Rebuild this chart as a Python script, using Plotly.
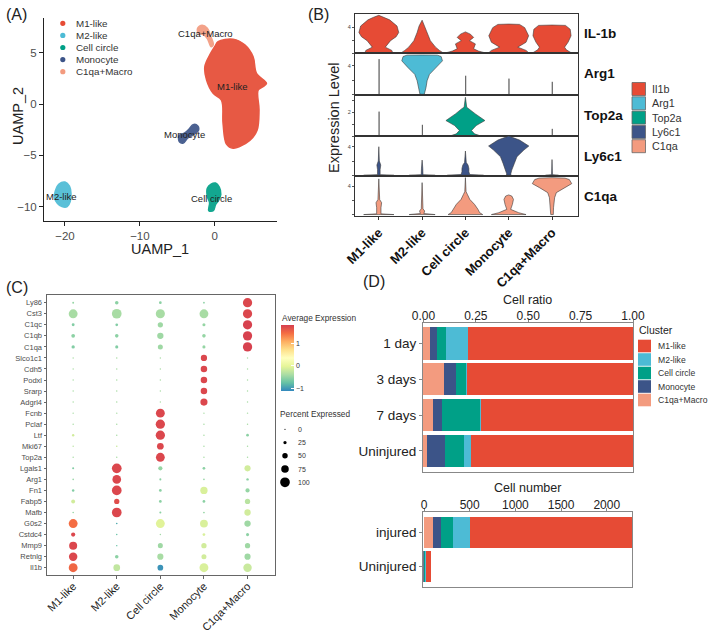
import plotly.graph_objects as go

W, H = 709, 632
FONT = "Liberation Sans, Arial, Helvetica, sans-serif"


def PX(x):
    return x / W


def PY(y):
    return 1 - y / H


# ------------------------------------------------------------------ data
CLUSTERS = ["M1-like", "M2-like", "Cell circle", "Monocyte", "C1qa+Macro"]
CLUSTER_COLORS = ["#E64B35", "#4DBBD5", "#00A087", "#3C5488", "#F39B7F"]

# Panel A: UMAP cluster outlines
M1_X = [0.44, 2.44, 4.0, 5.1, 5.56, 6.9, 6.44, 5.78, 5.9, 5.64, 4.67, 2.44, 1.56, 1.1, 0.89, -0.22, -1.1, -1.33, -0.67, 0.0]
M1_Y = [6.1, 6.34, 5.78, 4.64, 3.0, 2.03, 1.7, 1.37, -0.59, -2.55, -3.53, -4.3, -3.9, -1.9, 0.39, 1.05, 2.35, 3.66, 4.8, 5.62]
M2_X = [-21.3, -20.8, -20.0, -19.4, -19.2, -19.3, -19.7, -20.4, -21.0, -21.4]
M2_Y = [-8.5, -7.8, -7.6, -8.0, -8.7, -9.5, -10.0, -10.0, -9.7, -9.1]
CC_X = [-1.0, -0.5, 0.1, 0.6, 0.8, 0.5, 0.1, -0.2, -0.8, -0.7, -1.0]
CC_Y = [-8.2, -7.8, -7.7, -8.1, -8.8, -9.4, -9.8, -10.4, -10.4, -9.6, -9.0]
MO_X = [-4.7, -4.8, -4.0, -3.4, -2.9, -2.3, -2.2, -2.9, -3.6, -4.2]
MO_Y = [-3.7, -3.1, -2.8, -2.4, -2.0, -2.1, -2.6, -3.0, -3.3, -3.8]
CM_X = [-2.3, -1.7, -1.0, -0.6, -0.2, -0.5, -1.0, -1.6, -2.2]
CM_Y = [7.4, 7.7, 7.4, 6.7, 5.8, 5.6, 6.4, 6.8, 6.9]
OUTLINES_X = [M1_X, M2_X, CC_X, MO_X, CM_X]
OUTLINES_Y = [M1_Y, M2_Y, CC_Y, MO_Y, CM_Y]
LABEL_X = [2.4, -20.4, -0.4, -4.1, -1.3]
LABEL_Y = [1.7, -9.0, -9.2, -3.0, 6.9]
A_XTICKS = [-20, -10, 0]
A_YTICKS = [-10, -5, 0, 5]

# Panel B: violin profiles [value, half-width] per cluster
VLN_ROWS = ["IL-1b", "Arg1", "Top2a", "Ly6c1", "C1qa"]
VLN_LEGEND = ["Il1b", "Arg1", "Top2a", "Ly6c1", "C1qa"]
VLN_IL1B = [
    [[0, 0], [0.05, 0.32], [0.4, 0.3], [0.9, 0.15], [1.9, 0.27], [2.5, 0.4], [3.15, 0.46], [4.15, 0.42], [5.1, 0.25], [5.5, 0.12], [5.8, 0]],
    [[0, 0], [0.05, 0.48], [0.4, 0.4], [0.9, 0.31], [1.9, 0.19], [3.15, 0.115], [4.15, 0.07], [5.05, 0]],
    [[0, 0], [0.05, 0.44], [0.3, 0.3], [0.65, 0.19], [1.4, 0.23], [1.9, 0.095], [2.4, 0.19], [2.9, 0.115], [3.25, 0]],
    [[0, 0], [0.05, 0.46], [0.4, 0.4], [0.9, 0.21], [1.65, 0.4], [2.65, 0.46], [3.9, 0.37], [4.4, 0.25], [4.45, 0]],
    [[0, 0], [0.05, 0.44], [0.5, 0.33], [0.9, 0.29], [1.65, 0.37], [2.65, 0.44], [3.65, 0.42], [4.25, 0.31], [4.3, 0]],
]
VLN_ARG1 = [
    [[0, 0.006], [4.94, 0.006]],
    [[0, 0], [0, 0.05], [0.95, 0.09], [1.9, 0.115], [2.8, 0.17], [3.77, 0.33], [4.7, 0.47], [5.3, 0.44], [5.5, 0.35], [5.52, 0]],
    [[0, 0.006], [2.6, 0.006]],
    [[0, 0.006], [2.2, 0.006]],
    [[0, 0.006], [1.75, 0.006]],
]
VLN_TOP2A = [
    [[0, 0.006], [2.05, 0.006]],
    [[0, 0.006], [0.94, 0.006]],
    [[0, 0], [0, 0.36], [0.18, 0.21], [0.46, 0.14], [0.88, 0.25], [1.3, 0.45], [1.86, 0.23], [2.28, 0.09], [2.42, 0.03], [3.26, 0]],
    [],
    [[0, 0.006], [0.6, 0.006]],
]
VLN_LY6C1 = [
    [[0, 0], [0, 0.35], [0.08, 0.03], [0.8, 0.03], [1.43, 0.045], [2.0, 0.012], [4.0, 0]],
    [[0, 0], [0, 0.3], [0.08, 0.02], [1.0, 0.015], [2.13, 0]],
    [[0, 0], [0, 0.42], [0.1, 0.1], [0.5, 0.08], [0.96, 0.08], [1.43, 0.06], [1.8, 0.02], [3.4, 0]],
    [[0, 0], [0, 0.05], [0.26, 0.05], [0.73, 0.07], [1.66, 0.13], [2.6, 0.19], [3.53, 0.35], [4.1, 0.465], [4.93, 0.25], [5.5, 0]],
    [[0, 0], [0, 0.15], [0.08, 0.01], [2.2, 0]],
]
VLN_C1QA = [
    [[0, 0], [0, 0.35], [0.1, 0.05], [0.96, 0.05], [1.66, 0.065], [2.1, 0.02], [5.0, 0]],
    [[0, 0], [0, 0.3], [0.15, 0.04], [0.5, 0.06], [0.8, 0.02], [4.47, 0]],
    [[0, 0], [0, 0.4], [0.26, 0.33], [0.73, 0.29], [1.43, 0.21], [2.13, 0.1], [2.83, 0.045], [3.2, 0.015], [5.17, 0]],
    [[0, 0], [0, 0.4], [0.26, 0.23], [0.73, 0.045], [1.43, 0.085], [2.13, 0.11], [2.6, 0.07], [2.75, 0]],
    [[0, 0], [0, 0.03], [0.96, 0.035], [2.36, 0.06], [3.07, 0.1], [3.77, 0.29], [4.33, 0.455], [4.9, 0.4], [5.1, 0.3], [5.17, 0]],
]
VLN_DATA = [VLN_IL1B, VLN_ARG1, VLN_TOP2A, VLN_LY6C1, VLN_C1QA]
VLN_YRANGES = [[0, 6.0], [-0.1, 5.8], [0, 3.45], [-0.1, 5.5], [-0.2, 5.4]]
VLN_TICKVALS = [[0, 2, 4], [0, 2, 4], [0, 1, 2, 3], [0, 2, 4], [0, 2, 4]]
VLN_TICKTEXT = [["", "", "4"], ["", "", "4"], ["", "", "2", ""], ["", "", "4"], ["", "", "4"]]

# Panel C: dot plot
GENES = ["Ly86", "Cst3", "C1qc", "C1qb", "C1qa", "Slco1c1", "Cdh5", "Podxl", "Srarp", "Adgrl4",
         "Fcnb", "Pclaf", "Ltf", "Mki67", "Top2a", "Lgals1", "Arg1", "Fn1", "Fabp5", "Mafb",
         "G0s2", "Cstdc4", "Mmp9", "Retnlg", "Il1b"]
PCT_M1 = [8, 90, 20, 30, 25, 3, 3, 3, 3, 3, 3, 3, 14, 3, 3, 10, 5, 15, 32, 5, 90, 35, 80, 85, 90]
AVG_M1 = [-0.5, -0.4, -0.6, -0.55, -0.6, -0.4, -0.4, -0.4, -0.4, -0.4, -0.4, -0.4, -0.15, -0.3, -0.4,
          -0.6, -0.5, -0.6, -0.15, -0.5, 1.45, 1.75, 1.75, 1.75, 1.5]
PCT_M2 = [28, 100, 18, 28, 22, 3, 3, 3, 3, 3, 3, 3, 3, 5, 3, 100, 88, 100, 48, 100, 5, 3, 3, 28, 65]
AVG_M2 = [-0.55, -0.4, -0.6, -0.55, -0.6, -0.4, -0.4, -0.4, -0.4, -0.4, -0.4, -0.4, -0.4, -0.2, -0.4,
          1.75, 1.75, 1.75, 1.7, 1.75, -0.9, -0.75, -0.75, -0.55, -0.25]
PCT_CC = [18, 93, 48, 60, 45, 3, 3, 3, 3, 3, 90, 95, 95, 65, 90, 35, 10, 18, 18, 10, 90, 3, 45, 58, 53]
AVG_CC = [-0.55, -0.4, -0.45, -0.45, -0.45, -0.4, -0.4, -0.4, -0.4, -0.4, 1.75, 1.75, 1.75, 1.75, 1.75,
          -0.5, -0.55, -0.55, -0.55, -0.55, -0.05, -0.45, -0.45, -0.4, -1.05]
PCT_MO = [6, 90, 22, 28, 22, 60, 62, 62, 62, 70, 3, 3, 3, 3, 3, 18, 5, 72, 18, 6, 78, 18, 48, 45, 90]
AVG_MO = [-0.55, -0.4, -0.5, -0.5, -0.5, 1.75, 1.75, 1.75, 1.75, 1.75, -0.4, -0.4, -0.4, -0.4, -0.4,
          -0.55, -0.5, -0.1, -0.55, -0.5, -0.1, -0.1, -0.15, -0.15, -0.1]
PCT_CM = [95, 95, 95, 95, 95, 3, 3, 3, 3, 3, 3, 3, 18, 3, 3, 58, 15, 35, 48, 60, 60, 22, 48, 58, 85]
AVG_CM = [1.75, 1.75, 1.8, 1.8, 1.8, -0.4, -0.4, -0.4, -0.4, -0.4, -0.4, -0.4, -0.55, -0.4, -0.4,
          -0.15, -0.55, -0.5, -0.3, -0.15, -0.45, -0.55, -0.45, -0.45, -0.2]
PCT_ALL = [PCT_M1, PCT_M2, PCT_CC, PCT_MO, PCT_CM]
AVG_ALL = [AVG_M1, AVG_M2, AVG_CC, AVG_MO, AVG_CM]
SIZE_LEGEND = [0, 25, 50, 75, 100]
AVG_RANGE = [-1.12, 1.82]
SPECTRAL = ["#3288BD", "#66C2A5", "#ABDDA4", "#E6F598", "#FFFFBF", "#FEE08B", "#FDAE61", "#F46D43", "#D53E4F"]

# Panel D: composition
TIMEPOINTS = ["1 day", "3 days", "7 days", "Uninjured"]
RATIO_M1 = [0.787, 0.790, 0.726, 0.771]
RATIO_M2 = [0.107, 0.003, 0.004, 0.035]
RATIO_CC = [0.041, 0.050, 0.180, 0.089]
RATIO_MO = [0.036, 0.059, 0.044, 0.086]
RATIO_CM = [0.029, 0.098, 0.046, 0.019]
CONDITIONS = ["injured", "Uninjured"]
COUNT_M1 = [1769, 60]
COUNT_M2 = [189, 3]
COUNT_CC = [124, 7]
COUNT_MO = [95, 7]
COUNT_CM = [95, 2]
RATIO_TICKS = [0, 0.25, 0.5, 0.75, 1.0]
COUNT_TICKS = [0, 500, 1000, 1500, 2000]

# ------------------------------------------------------------------ figure
fig = go.Figure()
ann = []
shapes = []


def text(x, y, s, size, color="#222", xanchor="center", yanchor="middle", bold=False, angle=0):
    ann.append(dict(x=PX(x), y=PY(y), xref="paper", yref="paper", text=("<b>%s</b>" % s) if bold else s,
                    showarrow=False, xanchor=xanchor, yanchor=yanchor, textangle=angle,
                    font=dict(family=FONT, size=size, color=color)))


# ---------------- Panel A
for i, name in enumerate(CLUSTERS):
    xs = OUTLINES_X[i] + [OUTLINES_X[i][0]]
    ys = OUTLINES_Y[i] + [OUTLINES_Y[i][0]]
    fig.add_trace(go.Scatter(x=xs, y=ys, mode="lines", fill="toself", fillcolor=CLUSTER_COLORS[i],
                             line=dict(color=CLUSTER_COLORS[i], width=1.5, shape="spline"), opacity=0.92,
                             xaxis="x", yaxis="y", hoverinfo="skip", showlegend=False, name=name))
    ann.append(dict(x=LABEL_X[i], y=LABEL_Y[i], xref="x", yref="y", text=name, showarrow=False,
                    font=dict(family=FONT, size=9.5, color="#222")))
axA = dict(showline=True, linecolor="#222", linewidth=1, ticks="outside", ticklen=4, tickcolor="#222",
           showgrid=False, zeroline=False, automargin=False,
           tickfont=dict(family=FONT, size=11.5, color="#4D4D4D"))
fig.update_layout(
    xaxis=dict(domain=[PX(44), PX(277)], range=[-22.8, 8.3], tickvals=A_XTICKS, anchor="y", **axA),
    yaxis=dict(domain=[PY(221), PY(18)], range=[-11.4, 8.4], tickvals=A_YTICKS, anchor="x", **axA),
)
text(160, 249, "UAMP_1", 14.5)
text(18, 116, "UAMP_2", 14.5, angle=-90)
for i, name in enumerate(CLUSTERS):
    cy = 23.3 + 12.1 * i
    shapes.append(dict(type="circle", xref="paper", yref="paper", x0=PX(60.2), x1=PX(65.4),
                       y0=PY(cy + 2.6), y1=PY(cy - 2.6), fillcolor=CLUSTER_COLORS[i], line=dict(width=0)))
    text(74, cy, name, 9.8, color="#333", xanchor="left")

# ---------------- Panel B
ROW_PX = [(14, 53), (53, 95), (95, 136), (136, 176), (176, 216)]
for r in range(5):
    ax = r + 2
    xs, ys = [], []
    for c, prof in enumerate(VLN_DATA[r]):
        if not prof:
            continue
        up = [(c + w, v) for v, w in prof]
        down = [(c - w, v) for v, w in reversed(prof)]
        pts = up + down + [up[0]]
        xs += [p[0] for p in pts] + [None]
        ys += [p[1] for p in pts] + [None]
    fig.add_trace(go.Scatter(x=xs, y=ys, mode="lines", fill="toself", fillcolor=CLUSTER_COLORS[r],
                             line=dict(color="#3a3a3a", width=0.6), xaxis="x%d" % ax, yaxis="y%d" % ax,
                             hoverinfo="skip", showlegend=False, name=VLN_LEGEND[r]))
    last = r == 4
    fig.layout["xaxis%d" % ax] = dict(domain=[PX(355), PX(578)], range=[-0.55, 4.6], anchor="y%d" % ax,
                                      showline=True, mirror=True, linecolor="#333", linewidth=1,
                                      showgrid=False, zeroline=False, automargin=False,
                                      tickvals=list(range(5)), ticktext=CLUSTERS if last else [""] * 5,
                                      showticklabels=last, ticks="outside" if last else "", ticklen=3,
                                      tickcolor="#333", tickangle=-45,
                                      tickfont=dict(family=FONT, size=13, color="#111", weight="bold"))
    y0, y1 = ROW_PX[r]
    fig.layout["yaxis%d" % ax] = dict(domain=[PY(y1), PY(y0)], range=VLN_YRANGES[r], anchor="x%d" % ax,
                                      showline=True, mirror=True, linecolor="#333", linewidth=1,
                                      showgrid=False, zeroline=False, automargin=False,
                                      tickvals=VLN_TICKVALS[r],
                                      ticktext=VLN_TICKTEXT[r], ticks="outside", ticklen=2, tickcolor="#555",
                                      tickfont=dict(family=FONT, size=5.5, color="#444"))
    text(582, (y0 + y1) / 2, VLN_ROWS[r], 13.5, color="#111", xanchor="left", bold=True)
text(334, 118, "Expression Level", 14.5, angle=-90)
for i, g in enumerate(VLN_LEGEND):
    cy = 89 + 14.3 * i
    shapes.append(dict(type="rect", xref="paper", yref="paper", x0=PX(632), x1=PX(645.5),
                       y0=PY(cy + 6.5), y1=PY(cy - 6.5), fillcolor=CLUSTER_COLORS[i],
                       line=dict(color="#666", width=0.8)))
    text(650, cy, g, 10.8, color="#333", xanchor="left")

# ---------------- Panel C
cx, cy_, csz, ccol = [], [], [], []
n = len(GENES)
for ci in range(5):
    for gi in range(n):
        cx.append(ci)
        cy_.append(n - 1 - gi)
        csz.append(1.2 + 8.5 * PCT_ALL[ci][gi] / 100)
        ccol.append(AVG_ALL[ci][gi])
cscale = [[i / (len(SPECTRAL) - 1), c] for i, c in enumerate(SPECTRAL)]
fig.add_trace(go.Scatter(
    x=cx, y=cy_, mode="markers", xaxis="x7", yaxis="y7", hoverinfo="skip", showlegend=False,
    marker=dict(size=csz, color=ccol, colorscale=cscale, cmin=AVG_RANGE[0], cmax=AVG_RANGE[1],
                line=dict(width=0), opacity=1,
                showscale=True,
                colorbar=dict(x=PX(280.5), xanchor="left", y=PY(357.8), yanchor="middle",
                              len=66, lenmode="pixels", thickness=12.5, thicknessmode="pixels",
                              tickvals=[-1, 0, 1], ticks="inside", ticklen=3, tickcolor="white",
                              outlinewidth=0, xpad=0, ypad=0,
                              tickfont=dict(family=FONT, size=7, color="#333")))))
axC = dict(showline=True, mirror=True, linecolor="#666", linewidth=1, showgrid=False, zeroline=False,
           ticks="outside", ticklen=2.5, tickcolor="#666", automargin=False)
fig.layout["xaxis7"] = dict(domain=[PX(47), PX(275)], range=[-0.6, 4.63], anchor="y7",
                            tickvals=list(range(5)), ticktext=CLUSTERS, tickangle=-45,
                            ticklabelstandoff=-3,
                            tickfont=dict(family=FONT, size=11, color="#222"), **axC)
fig.layout["yaxis7"] = dict(domain=[PY(575), PY(295)], range=[-0.66, n - 1 + 0.7], anchor="x7",
                            tickvals=list(range(n)), ticktext=list(reversed(GENES)),
                            tickfont=dict(family=FONT, size=7.5, color="#4D4D4D"), **axC)
text(280, 318, "Average Expression", 8.3, color="#333", xanchor="left")
text(278, 414, "Percent Expressed", 8.3, color="#333", xanchor="left")
for i, p in enumerate(SIZE_LEGEND):
    yy = 429.3 + 13.25 * i
    d = 1.2 + 8.5 * p / 100
    shapes.append(dict(type="circle", xref="paper", yref="paper", x0=PX(285 - d / 2), x1=PX(285 + d / 2),
                       y0=PY(yy + d / 2), y1=PY(yy - d / 2), fillcolor="black", line=dict(width=0)))
    text(296, yy, str(p), 7, color="#333", xanchor="left")

# ---------------- Panel D
ratio_sets = [RATIO_CM, RATIO_MO, RATIO_CC, RATIO_M2, RATIO_M1]
count_sets = [COUNT_CM, COUNT_MO, COUNT_CC, COUNT_M2, COUNT_M1]
order = [4, 3, 2, 1, 0]
for k, ci in enumerate(order):
    fig.add_trace(go.Bar(x=ratio_sets[k], y=TIMEPOINTS, orientation="h", width=0.9,
                         marker=dict(color=CLUSTER_COLORS[ci], line=dict(width=0)),
                         xaxis="x9", yaxis="y9", showlegend=False, hoverinfo="skip", name=CLUSTERS[ci]))
    fig.add_trace(go.Bar(x=count_sets[k], y=CONDITIONS, orientation="h", width=0.92,
                         marker=dict(color=CLUSTER_COLORS[ci], line=dict(width=0)),
                         xaxis="x10", yaxis="y10", showlegend=False, hoverinfo="skip", name=CLUSTERS[ci]))
axD = dict(showline=True, mirror=True, linecolor="#888", linewidth=1, showgrid=False, zeroline=False,
           ticks="outside", ticklen=3, tickcolor="#888", automargin=False)
fig.layout["xaxis9"] = dict(domain=[PX(423), PX(633)], range=[-0.002, 1.0], anchor="y9", side="top",
                            tickvals=RATIO_TICKS, ticktext=["%.2f" % t for t in RATIO_TICKS],
                            ticklabelstandoff=-6,
                            tickfont=dict(family=FONT, size=12, color="#222"), **axD)
fig.layout["yaxis9"] = dict(domain=[PY(471.7), PY(322.7)], anchor="x9", type="category",
                            categoryorder="array", categoryarray=TIMEPOINTS, range=[3.58, -0.58],
                            tickfont=dict(family=FONT, size=13.5, color="#222"), **axD)
fig.layout["xaxis10"] = dict(domain=[PX(423.3), PX(632.3)], range=[-8, 2280], anchor="y10", side="top",
                             tickvals=COUNT_TICKS, ticklabelstandoff=-6,
                             tickfont=dict(family=FONT, size=12, color="#222"), **axD)
fig.layout["yaxis10"] = dict(domain=[PY(587.3), PY(511.7)], anchor="x10", type="category",
                             categoryorder="array", categoryarray=CONDITIONS, range=[1.6, -0.6],
                             tickfont=dict(family=FONT, size=13.5, color="#222"), **axD)
text(527, 300, "Cell ratio", 12.5)
text(527, 488, "Cell number", 12.5)
text(637, 330, "Cluster", 10.5, xanchor="left")
for i, name in enumerate(CLUSTERS):
    cyy = 346 + 13.5 * i
    shapes.append(dict(type="rect", xref="paper", yref="paper", x0=PX(638), x1=PX(651),
                       y0=PY(cyy + 6.3), y1=PY(cyy - 6.3), fillcolor=CLUSTER_COLORS[i], line=dict(width=0)))
    text(656, cyy, name, 8.6, color="#333", xanchor="left")

# panel tags
text(4, 14, "(A)", 16, xanchor="left")
text(306, 14, "(B)", 16, xanchor="left")
text(4, 287, "(C)", 16, xanchor="left")
text(361, 282, "(D)", 16, xanchor="left")

fig.update_layout(
    template="none",
    width=W, height=H, margin=dict(l=0, r=0, t=0, b=0, pad=0), autosize=False,
    paper_bgcolor="white", plot_bgcolor="white", barmode="stack", showlegend=False,
    font=dict(family=FONT, color="#222"), annotations=ann, shapes=shapes,
)
fig.write_html("out.html", config={"displayModeBar": False},
               post_script="document.body.style.margin='0px';document.body.style.padding='0px';"
                           "document.body.style.overflow='hidden';")
